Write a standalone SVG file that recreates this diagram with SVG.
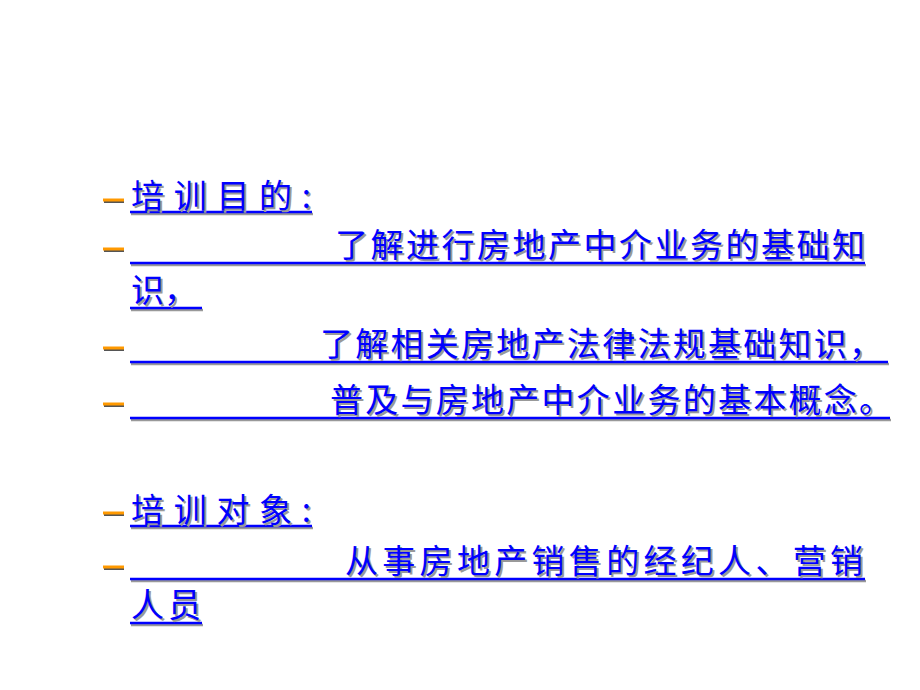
<svg xmlns="http://www.w3.org/2000/svg" width="920" height="690" viewBox="0 0 920 690">
<style>
.t{font-family:"Noto Sans CJK SC","Liberation Sans",sans-serif;font-size:33px;fill:#0000ff}
.s{font-family:"Noto Sans CJK SC","Liberation Sans",sans-serif;font-size:33px;fill:#999999}
.u{stroke:#0000ff;stroke-width:2.5}
.us{stroke:#999999;stroke-width:2.5}
.b{stroke:#ff9900;stroke-width:3}
.bs{stroke:#555;stroke-width:2}
</style>
<rect width="920" height="690" fill="#fff"/>
<g id="bullets">
<line class="bs" x1="104" y1="202" x2="124" y2="202"/><line class="b" x1="103" y1="200" x2="124" y2="200"/>
<line class="bs" x1="104" y1="251" x2="124" y2="251"/><line class="b" x1="103" y1="249" x2="124" y2="249"/>
<line class="bs" x1="104" y1="350" x2="124" y2="350"/><line class="b" x1="103" y1="348" x2="124" y2="348"/>
<line class="bs" x1="104" y1="406" x2="124" y2="406"/><line class="b" x1="103" y1="404" x2="124" y2="404"/>
<line class="bs" x1="104" y1="515" x2="124" y2="515"/><line class="b" x1="103" y1="513" x2="124" y2="513"/>
<line class="bs" x1="104" y1="569" x2="124" y2="569"/><line class="b" x1="103" y1="567" x2="124" y2="567"/>
</g>
<g id="underlines">
<line class="us" x1="131" y1="214" x2="313" y2="214"/><line class="u" x1="130" y1="212" x2="312" y2="212"/>
<line class="us" x1="131" y1="265" x2="866" y2="265"/><line class="u" x1="130" y1="263" x2="865" y2="263"/>
<line class="us" x1="131" y1="310" x2="203" y2="310"/><line class="u" x1="130" y1="308" x2="202" y2="308"/>
<line class="us" x1="131" y1="364" x2="889" y2="364"/><line class="u" x1="130" y1="362" x2="888" y2="362"/>
<line class="us" x1="131" y1="420" x2="891" y2="420"/><line class="u" x1="130" y1="418" x2="890" y2="418"/>
<line class="us" x1="131" y1="528" x2="313" y2="528"/><line class="u" x1="130" y1="526" x2="312" y2="526"/>
<line class="us" x1="131" y1="581" x2="866" y2="581"/><line class="u" x1="130" y1="579" x2="865" y2="579"/>
<line class="us" x1="131" y1="625" x2="203" y2="625"/><line class="u" x1="130" y1="623" x2="202" y2="623"/>
</g>
<g id="texts">
<text class="s" x="133" y="210" textLength="180">培训目的:</text><text class="t" x="131" y="208" textLength="180">培训目的:</text>
<text class="s" x="337" y="259" textLength="530">了解进行房地产中介业务的基础知</text><text class="t" x="335" y="257" textLength="530">了解进行房地产中介业务的基础知</text>
<text class="s" x="133" y="304">识，</text><text class="t" x="131" y="302">识，</text>
<text class="s" x="322" y="358" textLength="562">了解相关房地产法律法规基础知识，</text><text class="t" x="320" y="356" textLength="562">了解相关房地产法律法规基础知识，</text>
<text class="s" x="332" y="414" textLength="562">普及与房地产中介业务的基本概念。</text><text class="t" x="330" y="412" textLength="562">普及与房地产中介业务的基本概念。</text>
<text class="s" x="133" y="524" textLength="180">培训对象:</text><text class="t" x="131" y="522" textLength="180">培训对象:</text>
<text class="s" x="347" y="575" textLength="518">从事房地产销售的经纪人、营销</text><text class="t" x="345" y="573" textLength="518">从事房地产销售的经纪人、营销</text>
<text class="s" x="133" y="619" textLength="70">人员</text><text class="t" x="131" y="617" textLength="70">人员</text>
</g>
</svg>
